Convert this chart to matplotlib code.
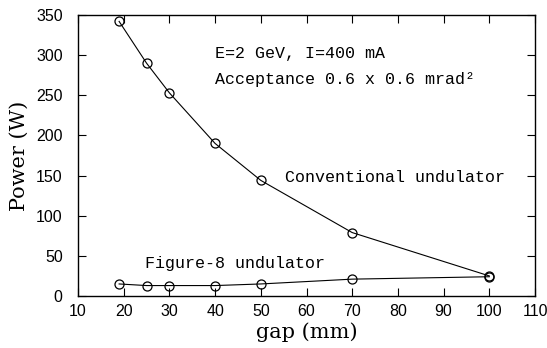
import matplotlib
matplotlib.use("Agg")
import matplotlib.pyplot as plt

gap_conv = [19, 25, 30, 40, 50, 70, 100]
power_conv = [342, 290, 253, 190, 144, 79, 25]
gap_fig8 = [19, 25, 30, 40, 50, 70, 100]
power_fig8 = [15, 13, 13, 13, 15, 21, 24]

xticks = [10, 20, 30, 40, 50, 60, 70, 80, 90, 100, 110]
yticks = [0, 50, 100, 150, 200, 250, 300, 350]

fig = plt.figure(figsize=(5.47, 3.48), dpi=100)
ax = fig.add_axes([78/547, 52/348, (535-78)/547, (296-15)/348])

kw = dict(color='black', lw=0.8, marker='o', mfc='none', mec='black', ms=6.5, mew=0.9)
ax.plot(gap_conv, power_conv, **kw)
ax.plot(gap_fig8, power_fig8, **kw)

ax.set_xlim(10, 110)
ax.set_ylim(0, 350)
ax.set_xticks(xticks)
ax.set_yticks(yticks)
ax.tick_params(direction='in', length=6, width=0.8, top=True, right=True,
               labeltop=False, labelright=False, labelsize=11.5)
ax.tick_params(axis='x', pad=6)
ax.tick_params(axis='y', pad=11)
for lab in ax.get_xticklabels() + ax.get_yticklabels():
    lab.set_family('Liberation Sans')
for s in ax.spines.values():
    s.set_linewidth(1.0)

ax.set_xlabel('gap (mm)', family='DejaVu Serif', fontsize=15, labelpad=2)
ax.set_ylabel('Power (W)', family='DejaVu Serif', fontsize=15, labelpad=5)

mono = dict(family='Liberation Mono', fontsize=12, ha='left', va='center')
ax.text(40, 302, 'E=2 GeV, I=400 mA', **mono)
ax.text(40, 270, 'Acceptance 0.6 x 0.6 mrad²', **mono)
ax.text(55.3, 147, 'Conventional undulator', **mono)
ax.text(24.7, 41, 'Figure-8 undulator', **mono)

fig.savefig('out.png', dpi=100)
